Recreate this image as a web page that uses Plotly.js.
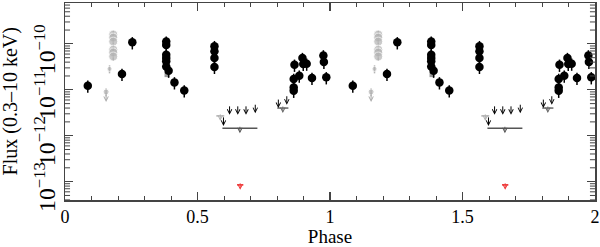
<!DOCTYPE html>
<html>
<head>
<meta charset="utf-8">
<script src="https://cdn.plot.ly/plotly-3.0.1.min.js"></script>
<style>
  html, body { margin: 0; padding: 0; background: #fff; }
  #chart { width: 600px; height: 247px; }
</style>
</head>
<body>
<div id="chart"></div>
<script>
// Light curve folded on the orbital period, shown over two cycles.
// Values are for one cycle (phase 0-1); the second cycle repeats them at phase+1.

// detections (black)
const detPhase = [0.086, 0.215, 0.254, 0.382, 0.382, 0.382, 0.382, 0.382, 0.382, 0.391, 0.413, 0.450,
  0.564, 0.564, 0.564, 0.564, 0.863, 0.863, 0.863, 0.866, 0.884, 0.896, 0.899, 0.912, 0.932,
  0.975, 0.977, 0.986];
const detFlux = [1.23e-11, 2.21e-11, 1.08e-10, 1.12e-10, 9.4e-11, 5.8e-11, 4.9e-11, 4.2e-11, 3.2e-11,
  2.6e-11, 1.45e-11, 9.7e-12, 8.9e-11, 6.9e-11, 4.9e-11, 3.15e-11, 9.5e-12, 1.12e-11, 1.72e-11,
  3.5e-11, 2.03e-11, 4.9e-11, 3.65e-11, 3.7e-11, 1.81e-11, 5.6e-11, 4.05e-11, 1.87e-11];

// second instrument (grey circles)
const greyPhase = [0.155, 0.168, 0.182, 0.182, 0.182, 0.182, 0.182, 0.182];
const greyFlux = [9.0e-12, 2.85e-11, 1.6e-10, 1.37e-10, 1.12e-10, 7.5e-11, 6.5e-11, 5.3e-11];

// grey square
const sqPhase = [0.385];
const sqFlux = [2.14e-11];

// upper limits (arrows)
const ulPhase = [0.155, 0.598, 0.621, 0.652, 0.683, 0.718, 0.805, 0.837];
const ulFlux = [9.0e-12, 2.7e-12, 4.7e-12, 4.7e-12, 4.7e-12, 5.1e-12, 6.6e-12, 7.8e-12];
const ulColor = ['#aaaaaa', '#000', '#000', '#000', '#000', '#000', '#000', '#000'];

// binned upper limits with phase width
const binPhase = [0.586, 0.660, 0.822, 0.661];
const binHalf = [0.015, 0.066, 0.021, 0.012];
const binFlux = [2.7e-12, 1.45e-12, 4.0e-12, 8.5e-14];
const binColor = ['#b0b0b0', '#555555', '#666666', '#ee3333'];

const SERIF = 'Liberation Serif, Times New Roman, serif';
const AXC = '#444';
const twice = (a, shift) => a.concat(a.map((v) => v + shift));
const dup = (a) => a.concat(a);

const traces = [
  {
    x: twice(greyPhase, 1), y: dup(greyFlux), type: 'scatter', mode: 'markers',
    marker: { color: '#b4b4b4', size: [6, 5, 9, 9, 9, 9, 9, 9, 6, 5, 9, 9, 9, 9, 9, 9] },
    error_y: { type: 'percent', value: 20, color: '#b4b4b4', thickness: 1.5, width: 0 },
  },
  {
    x: twice(sqPhase, 1), y: dup(sqFlux), type: 'scatter', mode: 'markers',
    marker: { color: '#999999', size: 5, symbol: 'square' },
  },
  {
    x: twice(detPhase, 1), y: dup(detFlux), type: 'scatter', mode: 'markers',
    marker: { color: '#000', size: 8.5 },
    error_y: { type: 'percent', value: 30, color: '#000', thickness: 1.5, width: 0 },
  },
];

// horizontal phase bars of the binned limits
binPhase.forEach((p, i) => {
  traces.push({
    x: [p, p + 1], y: [binFlux[i], binFlux[i]], type: 'scatter', mode: 'markers',
    marker: { size: 1, color: 'rgba(0,0,0,0)' },
    error_x: { type: 'data', array: [binHalf[i], binHalf[i]], color: binColor[i], thickness: 1.5, width: 0 },
  });
});

// arrows for upper limits: tail at the limit, head a few px below
const annotations = [];
const addArrow = (p, f, color, len, shift) => {
  for (const off of [0, 1]) {
    annotations.push({
      x: p + off, y: Math.log10(f), xref: 'x', yref: 'y', text: '',
      showarrow: true, arrowhead: 5, arrowsize: 0.9, arrowwidth: 1, arrowcolor: color,
      ax: 0, ay: -len, yshift: shift,
    });
  }
};
ulPhase.forEach((p, i) => addArrow(p, ulFlux[i], ulColor[i], 10, -10));
binPhase.forEach((p, i) => addArrow(p, binFlux[i], binColor[i], 8, -5));

// y-axis title, placed a bit further left than the automatic title
annotations.push({
  text: 'Flux (0.3–10 keV)', xref: 'paper', yref: 'paper', x: -0.102, y: 0.5,
  xanchor: 'center', yanchor: 'middle', textangle: -90, showarrow: false,
  font: { family: SERIF, size: 20, color: '#000' },
});

// log minor ticks (2..9 per decade) on left and right frame edges
const shapes = [];
for (let d = -14; d <= -10; d++) {
  for (let m = 2; m <= 9; m++) {
    const v = m * Math.pow(10, d);
    shapes.push({ type: 'line', xref: 'paper', yref: 'y', x0: 0, x1: 0.0095, y0: v, y1: v,
      line: { color: AXC, width: 1 } });
    shapes.push({ type: 'line', xref: 'paper', yref: 'y', x0: 0.9905, x1: 1, y0: v, y1: v,
      line: { color: AXC, width: 1 } });
  }
}

const layout = {
  width: 600, height: 247,
  margin: { l: 65, r: 5, t: 3, b: 47 },
  paper_bgcolor: '#fff', plot_bgcolor: '#fff',
  showlegend: false,
  font: { family: SERIF, size: 18, color: '#000' },
  xaxis: {
    range: [0, 2], tick0: 0, dtick: 0.5,
    ticks: 'inside', ticklen: 8, tickwidth: 1.2, tickcolor: AXC,
    minor: { dtick: 0.1, ticks: 'inside', ticklen: 4, tickwidth: 1, tickcolor: AXC },
    showline: true, mirror: 'ticks', linecolor: AXC, linewidth: 1.5,
    showgrid: false, zeroline: false,
    tickfont: { family: SERIF, size: 18 },
    title: { text: 'Phase', font: { family: SERIF, size: 19 }, standoff: 4 },
  },
  yaxis: {
    type: 'log', range: [-13.4, -9.11], dtick: 1,
    exponentformat: 'power', tickangle: -90, ticklabelshift: 9,
    ticks: 'inside', ticklen: 8, tickwidth: 1.2, tickcolor: AXC,
    showline: true, mirror: 'ticks', linecolor: AXC, linewidth: 1.5,
    showgrid: false, zeroline: false,
    tickfont: { family: SERIF, size: 19 },
  },
  shapes,
  annotations,
};

Plotly.newPlot('chart', traces, layout, { staticPlot: true, displayModeBar: false });
</script>
</body>
</html>
